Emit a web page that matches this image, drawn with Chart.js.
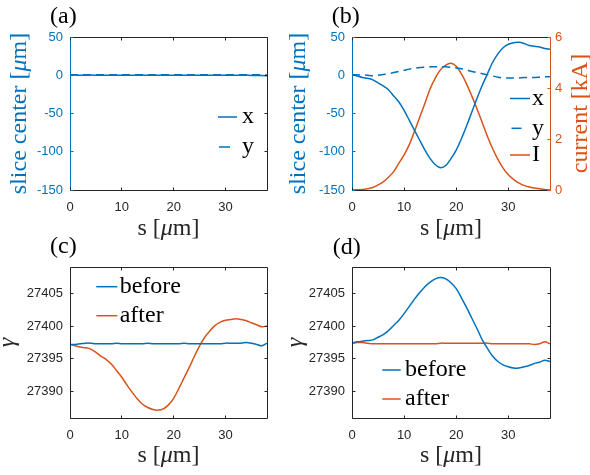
<!DOCTYPE html>
<html>
<head>
<meta charset="utf-8">
<script src="https://cdn.jsdelivr.net/npm/chart.js@4.4.1/dist/chart.umd.min.js"></script>
<style>
  body { margin: 0; background: #fff; }
  #fig { position: relative; width: 590px; height: 475px; overflow: hidden; }
  #fig canvas { position: absolute; }
</style>
</head>
<body>
<div id="fig">
  <canvas id="pa" width="295" height="250" style="left:0px;top:0px"></canvas>
  <canvas id="pb" width="310" height="250" style="left:280px;top:0px"></canvas>
  <canvas id="pc" width="295" height="240" style="left:0px;top:235px"></canvas>
  <canvas id="pd" width="310" height="240" style="left:280px;top:235px"></canvas>
</div>
<script>
// s positions [um]
const s = [0, 1, 2, 3, 4, 5, 6, 7, 8, 9, 10, 11, 12, 13, 14, 15, 16, 17, 18, 19,
  20, 21, 22, 23, 24, 25, 26, 27, 28, 29, 30, 31, 32, 33, 34, 35, 36, 37, 38];

// (a) slice centers, after correction
const aX = [0.4, 0.2, 0.1, 0.1, 0.2, 0.1, 0, 0, 0.1, 0, 0, 0.1, 0, 0, 0.1, 0, 0, 0, 0.1, 0,
  0, 0.1, 0, 0, 0, 0.1, 0, 0, 0, 0.1, 0, 0, 0.1, 0, 0, -0.2, -0.3, -0.2, -0.8];
const aY = [0.6, 0.8, 0.6, 0.5, 0.7, 0.6, 0.5, 0.6, 0.7, 0.6, 0.5, 0.6, 0.6, 0.5, 0.6, 0.7, 0.6, 0.5, 0.6, 0.6,
  0.5, 0.6, 0.7, 0.6, 0.5, 0.6, 0.6, 0.5, 0.6, 0.7, 0.6, 0.5, 0.6, 0.6, 0.5, 0.6, 0.7, 0.6, 0.4];

// (b) slice centers before correction + current [kA]
const bX = [0.9, -1, -3, -4, -6, -10, -14, -19, -27, -35, -46, -59, -72, -85, -98, -109, -117, -121, -118, -109,
  -98, -83, -66, -48, -30, -13, 2, 17, 28, 36, 40.5, 42.6, 43, 41.5, 39, 38, 37, 35, 34];
const bY = [0.9, 0.5, 0.5, 0, -0.5, 0, 1, 2, 3.5, 5, 6.5, 8, 9, 10, 10.5, 11, 11, 11, 11, 10.5,
  9.5, 8.5, 7, 5, 3.5, 2, 0.5, -1, -2.5, -3.5, -3.5, -3.5, -3.5, -3, -3, -3, -2.5, -2, -2];
const bI = [0, 0.01, 0.02, 0.05, 0.1, 0.2, 0.32, 0.5, 0.72, 1.05, 1.38, 1.78, 2.3, 2.85, 3.4, 3.97, 4.4, 4.72, 4.9, 4.97,
  4.85, 4.55, 4.15, 3.68, 3.18, 2.64, 2.1, 1.62, 1.2, 0.86, 0.6, 0.42, 0.28, 0.18, 0.12, 0.08, 0.05, 0.02, 0];

// (c) gamma, case 1
const cBefore = [27397.2, 27397.2, 27397.3, 27397.4, 27397.4, 27397.3, 27397.3, 27397.3, 27397.3, 27397.4,
  27397.3, 27397.3, 27397.3, 27397.3, 27397.3, 27397.4, 27397.3, 27397.3, 27397.3, 27397.3,
  27397.3, 27397.3, 27397.4, 27397.3, 27397.3, 27397.3, 27397.3, 27397.3, 27397.3, 27397.3,
  27397.4, 27397.4, 27397.4, 27397.4, 27397.5, 27397.4, 27397.2, 27397.0, 27397.4];
const cAfter = [27397.2, 27397.0, 27396.8, 27396.7, 27396.5, 27396.0, 27395.4, 27394.9, 27394.2, 27393.2,
  27392.2, 27391.0, 27389.9, 27388.9, 27388.1, 27387.6, 27387.3, 27387.2, 27387.4, 27388.0,
  27389.0, 27390.5, 27392.1, 27393.7, 27395.4, 27397.0, 27398.3, 27399.3, 27400.1, 27400.6,
  27400.9, 27401.0, 27401.1, 27401.0, 27400.8, 27400.5, 27400.2, 27399.9, 27400.0];

// (d) gamma, case 2
const dBefore = [27397.4, 27397.6, 27397.7, 27397.8, 27397.9, 27398.3, 27398.7, 27399.3, 27400.1, 27400.9,
  27401.9, 27403.0, 27404.1, 27405.1, 27406.0, 27406.7, 27407.2, 27407.4, 27407.2, 27406.6,
  27405.7, 27404.3, 27402.8, 27401.2, 27399.6, 27397.9, 27396.6, 27395.4, 27394.6, 27394.1,
  27393.8, 27393.6, 27393.6, 27393.8, 27394.0, 27394.3, 27394.5, 27394.8, 27394.6];
const dAfter = [27397.4, 27397.5, 27397.5, 27397.4, 27397.3, 27397.3, 27397.3, 27397.3, 27397.3, 27397.3,
  27397.3, 27397.3, 27397.3, 27397.3, 27397.3, 27397.3, 27397.3, 27397.4, 27397.4, 27397.4,
  27397.4, 27397.4, 27397.4, 27397.4, 27397.4, 27397.4, 27397.4, 27397.3, 27397.3, 27397.3,
  27397.3, 27397.3, 27397.3, 27397.3, 27397.3, 27397.2, 27397.3, 27397.6, 27397.3];

const BLUE = '#0072BD', ORANGE = '#D95319', DARK = '#262626';
const SANS = 'Liberation Sans, Arial, sans-serif';
const SERIF = 'Liberation Serif, Times New Roman, serif';
const tickFont = { family: SANS, size: 13 };

// axis labels with an italic mu, as in the original figure
const sLabel = [{ t: 's [' }, { t: 'μ', it: true }, { t: 'm]' }];
const centerLabel = [{ t: 'slice center [' }, { t: 'μ', it: true }, { t: 'm]' }];
const gammaLabel = [{ t: 'γ', it: true }];
const currentLabel = [{ t: 'current [kA]' }];

function pts(arr) {
  return s.map((v, i) => ({ x: v, y: arr[i] }));
}

function line(label, arr, color, dash, axis) {
  return {
    label: label, data: pts(arr), borderColor: color, borderWidth: 1.5,
    borderDash: dash || [], pointRadius: 0, tension: 0.3, fill: false, yAxisID: axis || 'y'
  };
}

function px(v) {
  return Math.round(v - 0.5) + 0.5;
}

function richText(ctx, parts, x, y, rot, color) {
  const fonts = parts.map(p => (p.it ? 'italic ' : '') + '24px ' + SERIF);
  let w = 0;
  const ws = parts.map((p, i) => { ctx.font = fonts[i]; const m = ctx.measureText(p.t).width; w += m; return m; });
  ctx.save();
  ctx.translate(x, y);
  ctx.rotate(rot);
  ctx.fillStyle = color;
  ctx.textAlign = 'left';
  ctx.textBaseline = 'middle';
  let cx = -w / 2;
  parts.forEach((p, i) => { ctx.font = fonts[i]; ctx.fillText(p.t, cx, 0); cx += ws[i]; });
  ctx.restore();
}

// box, inward ticks, axis titles, legend, panel letter
const deco = {
  id: 'deco',
  afterDatasetsDraw(chart, args, o) {
    const ctx = chart.ctx, a = chart.chartArea;
    const L = px(a.left), R = px(a.right), T = px(a.top), B = px(a.bottom);
    const xs = chart.scales.x, ys = chart.scales.y, y2 = chart.scales.y2;
    const tl = 3;
    ctx.save();
    ctx.lineWidth = 1;
    function seg(c, x1, y1, x2, yb) {
      ctx.strokeStyle = c;
      ctx.beginPath(); ctx.moveTo(x1, y1); ctx.lineTo(x2, yb); ctx.stroke();
    }
    seg(DARK, L, T, R, T);
    seg(DARK, L, B, R, B);
    seg(y2 ? ORANGE : DARK, R, T, R, B);
    seg(o.leftColor, L, T, L, B);
    xs.ticks.forEach(t => {
      const p = px(xs.getPixelForValue(t.value));
      seg(DARK, p, B, p, B - tl);
      seg(DARK, p, T, p, T + tl);
    });
    ys.ticks.forEach(t => {
      const p = px(ys.getPixelForValue(t.value));
      seg(o.leftColor, L, p, L + tl, p);
      if (!y2) seg(DARK, R, p, R - tl, p);
    });
    if (y2) {
      y2.ticks.forEach(t => {
        const p = px(y2.getPixelForValue(t.value));
        seg(ORANGE, R, p, R - tl, p);
      });
    }
    // axis titles
    const midY = (a.top + a.bottom) / 2;
    richText(ctx, sLabel, (a.left + a.right) / 2, a.bottom + o.xTitleDy, 0, DARK);
    richText(ctx, o.yTitle, o.yTitleX, midY, -Math.PI / 2, o.leftColor);
    if (y2) richText(ctx, currentLabel, o.y2TitleX, midY, -Math.PI / 2, ORANGE);
    // legend
    ctx.font = '24px ' + SERIF;
    ctx.textBaseline = 'middle';
    ctx.textAlign = 'left';
    o.legend.forEach(e => {
      const ds = chart.data.datasets[e.ds];
      ctx.save();
      ctx.lineWidth = ds.borderWidth;
      ctx.strokeStyle = ds.borderColor;
      ctx.beginPath(); ctx.moveTo(e.x1, e.y); ctx.lineTo(e.x2, e.y); ctx.stroke();
      ctx.restore();
      ctx.fillStyle = '#000';
      ctx.fillText(ds.label, e.tx, e.y);
    });
    // panel letter
    ctx.textAlign = 'center';
    ctx.fillStyle = '#000';
    ctx.fillText(o.letter[0], o.letter[1], o.letter[2]);
    ctx.restore();
  }
};

function makeChart(id, o) {
  const scales = {
    x: {
      type: 'linear', min: 0, max: 38,
      afterFit: sc => { sc.height = o.xHeight; },
      ticks: { stepSize: 10, includeBounds: false, font: tickFont, color: DARK, padding: 10, maxRotation: 0, callback: v => String(v) },
      grid: { display: false, drawTicks: false },
      border: { display: false }
    },
    y: {
      type: 'linear', position: 'left', min: o.yMin, max: o.yMax,
      afterFit: sc => { sc.width = o.left; },
      ticks: { stepSize: o.yStep, includeBounds: false, font: tickFont, color: o.yColor, padding: 7, callback: v => String(v) },
      grid: { display: false, drawTicks: false },
      border: { display: false }
    }
  };
  if (o.y2) {
    scales.y2 = {
      type: 'linear', position: 'right', min: 0, max: 6,
      afterFit: sc => { sc.width = o.y2Width; },
      ticks: { stepSize: 2, font: tickFont, color: ORANGE, padding: 5, callback: v => String(v) },
      grid: { display: false, drawTicks: false },
      border: { display: false }
    };
  }
  return new Chart(document.getElementById(id), {
    type: 'line',
    data: { datasets: o.datasets },
    options: {
      responsive: false,
      animation: false,
      devicePixelRatio: 1,
      layout: { padding: { top: o.top, right: o.padRight, left: 0, bottom: 0 } },
      scales: scales,
      plugins: {
        legend: { display: false },
        tooltip: { enabled: false },
        deco: {
          leftColor: o.yColor, legend: o.legend, letter: o.letter,
          xTitleDy: o.xTitleDy, yTitle: o.yTitle, yTitleX: o.yTitleX, y2TitleX: o.y2TitleX
        }
      }
    },
    plugins: [deco]
  });
}

makeChart('pa', {
  datasets: [line('x', aX, BLUE), line('y', aY, BLUE, [8, 5])],
  top: 37, padRight: 28, left: 70, xHeight: 60, xTitleDy: 39,
  yMin: -150, yMax: 50, yStep: 50, yColor: BLUE, yTitle: centerLabel, yTitleX: 20,
  legend: [{ ds: 0, x1: 218, x2: 237, y: 117, tx: 242 }, { ds: 1, x1: 219, x2: 230, y: 147, tx: 242 }],
  letter: ['(a)', 63.3, 16.6]
});

makeChart('pb', {
  datasets: [line('x', bX, BLUE), line('y', bY, BLUE, [8, 5]), line('I', bI, ORANGE, null, 'y2')],
  top: 37, padRight: 0, left: 72, xHeight: 60, xTitleDy: 39, y2: true, y2Width: 40,
  yMin: -150, yMax: 50, yStep: 50, yColor: BLUE, yTitle: centerLabel, yTitleX: 19, y2TitleX: 300.4,
  legend: [{ ds: 0, x1: 230, x2: 250, y: 98.5, tx: 252 }, { ds: 1, x1: 231.5, x2: 241.5, y: 128.3, tx: 252 },
    { ds: 2, x1: 230, x2: 250, y: 155, tx: 252 }],
  letter: ['(b)', 65.8, 16.6]
});

makeChart('pc', {
  datasets: [line('before', cBefore, BLUE), line('after', cAfter, ORANGE)],
  top: 32, padRight: 28, left: 70, xHeight: 57, xTitleDy: 38,
  yMin: 27386, yMax: 27409, yStep: 5, yColor: DARK, yTitle: gammaLabel, yTitleX: 8,
  legend: [{ ds: 0, x1: 96.3, x2: 117.3, y: 51.7, tx: 119.7 }, { ds: 1, x1: 96.3, x2: 117.3, y: 80.7, tx: 119.7 }],
  letter: ['(c)', 63.3, 11.6]
});

makeChart('pd', {
  datasets: [line('before', dBefore, BLUE), line('after', dAfter, ORANGE)],
  top: 32, padRight: 40, left: 72, xHeight: 57, xTitleDy: 38,
  yMin: 27386, yMax: 27409, yStep: 5, yColor: DARK, yTitle: gammaLabel, yTitleX: 16,
  legend: [{ ds: 0, x1: 102.3, x2: 120.7, y: 135, tx: 125 }, { ds: 1, x1: 102.3, x2: 120.7, y: 164, tx: 125 }],
  letter: ['(d)', 66.7, 12.4]
});
</script>
</body>
</html>
